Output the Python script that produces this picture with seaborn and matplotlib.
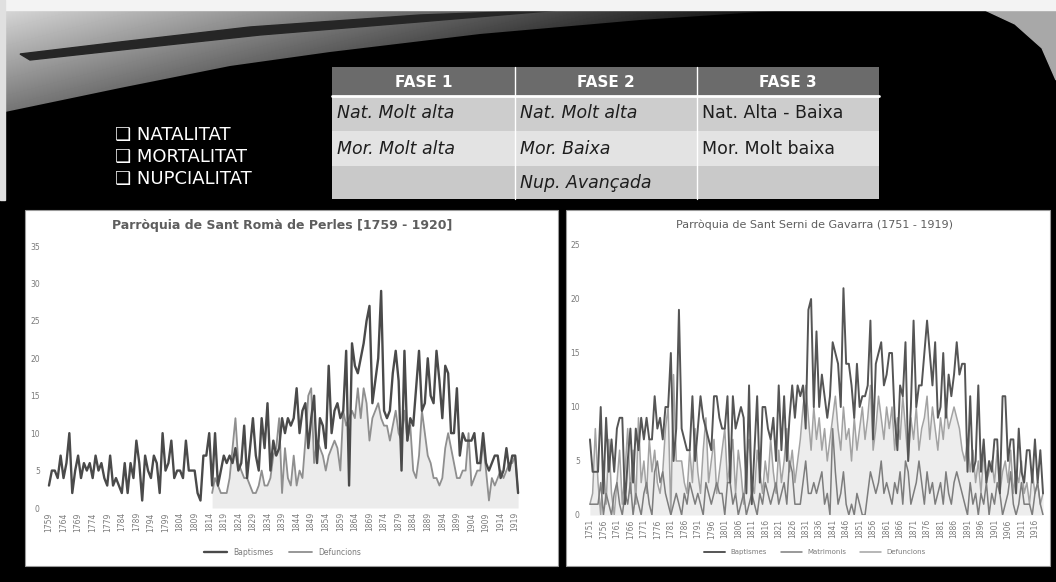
import numpy as np
import pandas as pd
import matplotlib.pyplot as plt
import seaborn as sns
from matplotlib.patches import Rectangle, Polygon

sns.set_style("white")
plt.rcParams['font.family'] = ['DejaVu Sans']

# ---- data: Sant Roma de Perles (1759 - 1920)
perles_years = list(range(1759, 1921))
perles_baptismes = [3, 5, 5, 4, 7, 4, 6, 10, 2, 5,
                    7, 4, 6, 5, 6, 4, 7, 5, 6, 4,
                    3, 7, 3, 4, 3, 2, 6, 2, 6, 4,
                    9, 6, 1, 7, 5, 4, 7, 6, 2, 10,
                    5, 6, 9, 4, 5, 5, 4, 9, 5, 5,
                    5, 2, 1, 7, 7, 10, 3, 10, 3, 5,
                    7, 6, 7, 6, 8, 5, 6, 11, 4, 8,
                    12, 7, 5, 12, 8, 14, 5, 9, 7, 8,
                    12, 10, 12, 11, 12, 16, 10, 13, 14, 8,
                    12, 15, 6, 12, 11, 8, 19, 10, 13, 14,
                    12, 13, 21, 3, 22, 19, 18, 20, 22, 25,
                    27, 14, 17, 20, 29, 13, 12, 13, 18, 21,
                    17, 5, 21, 9, 12, 11, 16, 21, 13, 14,
                    20, 15, 14, 21, 17, 12, 19, 18, 10, 10,
                    16, 7, 10, 9, 9, 9, 10, 6, 6, 10,
                    6, 5, 6, 7, 7, 4, 5, 8, 5, 7,
                    7, 2]
perles_defuncions = [np.nan] * 56 + [2, 4, 3, 2, 2, 2, 4, 8, 12, 6,
                                     5, 4, 4, 3, 2, 2, 3, 5, 3, 3,
                                     4, 7, 8, 12, 2, 8, 4, 3, 7, 3,
                                     5, 4, 9, 15, 16, 6, 9, 8, 7, 5,
                                     7, 8, 9, 8, 5, 13, 11, 12, 13, 12,
                                     16, 12, 16, 14, 9, 12, 13, 14, 12, 11,
                                     11, 9, 11, 13, 10, 9, 13, 9, 11, 5,
                                     4, 7, 13, 10, 7, 6, 4, 4, 3, 4,
                                     8, 10, 8, 6, 4, 4, 5, 5, 10, 3,
                                     4, 5, 5, 9, 5, 1, 4, 3, 4, 5,
                                     4, 5, 6, 6, 7, 2]

# ---- data: Sant Serni de Gavarra (1751 - 1919)
gavarra_years = list(range(1751, 1920))
gavarra_baptismes = [7, 4, 4, 4, 10, 2, 9, 4, 7, 4,
                     8, 9, 9, 1, 5, 8, 3, 8, 6, 9,
                     7, 9, 7, 7, 11, 8, 9, 7, 10, 10,
                     15, 5, 8, 19, 8, 7, 6, 6, 11, 5,
                     8, 11, 9, 8, 7, 6, 11, 11, 9, 8,
                     8, 11, 3, 11, 8, 9, 10, 9, 2, 12,
                     1, 6, 11, 3, 10, 10, 8, 7, 9, 5,
                     12, 6, 11, 5, 9, 12, 9, 12, 11, 12,
                     8, 19, 20, 10, 17, 10, 13, 11, 9, 11,
                     16, 15, 14, 10, 21,
                     14, 14, 12, 9, 14, 10, 11, 11, 12, 18,
                     7, 14, 15, 16, 12, 13, 15, 15, 9, 6,
                     12, 11, 16, 5, 10, 18, 10, 12, 12, 15,
                     18, 15, 12, 16, 9, 10, 15, 9, 13, 11,
                     13, 16, 13, 14, 14, 4, 11, 4, 5, 12,
                     4, 7, 3, 5, 4, 7, 7, 2, 11, 11,
                     5, 7, 7, 2, 8, 4, 3, 6, 6, 3,
                     7, 3, 6, 2]
gavarra_matrimonis = [1, 1, 1, 1, 3, 0, 2, 1, 0, 2,
                      3, 1, 0, 2, 1, 3, 0, 2, 1, 0,
                      2, 3, 1, 0, 4, 5, 3, 4, 2, 1,
                      0, 1, 2, 1, 0, 2, 1, 3, 2, 1,
                      2, 1, 0, 3, 2, 1, 2, 3, 2, 2,
                      0, 3, 3, 1, 2, 0, 1, 2, 0, 1,
                      2, 1, 0, 2, 1, 3, 2, 1, 2, 3,
                      1, 2, 3, 1, 5, 4, 1, 1, 1, 3,
                      5, 2, 2, 3, 2, 3, 4, 1, 2, 0,
                      8, 4, 1, 2, 4, 1, 0, 1, 0, 2,
                      1, 0, 0, 2, 4, 3, 2, 3, 5, 2,
                      3, 2, 1, 3, 2, 4, 1, 5, 4, 1,
                      2, 3, 5, 3, 1, 4, 2, 3, 1, 2,
                      3, 1, 4, 2, 1, 3, 4, 3, 2, 1,
                      0, 3, 1, 2, 0, 2, 1, 3, 0, 2,
                      1, 3, 2, 0, 1, 2, 4, 1, 0, 1,
                      3, 1, 1, 1, 0, 2, 3, 1, 0]
gavarra_defuncions = [1, 2, 8, 3, 0, 5, 1, 7, 2, 0,
                      3, 6, 1, 4, 8, 2, 6, 1, 9, 3,
                      5, 2, 7, 4, 6, 3, 2, 4, 8, 10,
                      0, 13, 5, 5, 5, 3, 2, 6, 3, 8,
                      4, 2, 6, 9, 3, 5, 7, 2, 4, 6,
                      8, 3, 5, 7, 2, 6, 4, 1, 5, 7,
                      3, 2, 6, 4, 2, 5, 3, 7, 4, 2,
                      6, 3, 5, 8, 4, 6, 3, 5, 7, 10,
                      12, 9, 6, 10, 7, 9, 6, 8, 5, 7,
                      9, 11, 8, 6, 10, 7, 8, 5, 9, 6,
                      8, 10, 7, 9, 12, 6, 8, 11, 9, 7,
                      10, 8, 10, 6, 9, 7, 11, 8, 5, 9,
                      7, 10, 6, 8, 9, 11, 7, 10, 8, 6,
                      9, 7, 10, 8, 9, 10, 9, 8, 6, 5,
                      7, 4, 6, 3, 5, 2, 6, 3, 4, 5,
                      3, 6, 2, 4, 5, 3, 6, 2, 4, 3,
                      5, 2, 3, 1, 4, 2, 3, 1, 2]

# ---- slide texts
fase_headers = ["FASE 1", "FASE 2", "FASE 3"]
fase_rows = [["Nat. Molt alta", "Nat. Molt alta", "Nat. Alta - Baixa"],
             ["Mor. Molt alta", "Mor. Baixa", "Mor. Molt baixa"],
             ["", "Nup. Avançada", ""]]
indicadors = ["NATALITAT", "MORTALITAT", "NUPCIALITAT"]

perles = pd.DataFrame({'any': perles_years, 'Baptismes': perles_baptismes,
                       'Defuncions': perles_defuncions})
gavarra = pd.DataFrame({'any': gavarra_years, 'Baptismes': gavarra_baptismes,
                        'Matrimonis': gavarra_matrimonis, 'Defuncions': gavarra_defuncions})

W, H = 1056, 582
fig = plt.figure(figsize=(W / 100, H / 100), dpi=100, facecolor='black')

# background of the slide, drawn in pixel coordinates
bg = fig.add_axes([0, 0, 1, 1], zorder=0)
bg.set_facecolor('black')
bg.set_xlim(0, W)
bg.set_ylim(H, 0)
bg.axis('off')
bg.add_patch(Rectangle((0, 0), W, H, color='black', zorder=0.5))

yy, xx = np.mgrid[0:120, 0:800]
sheen = np.clip(0.88 - 0.8 * xx / 800 - 0.45 * yy / 120, 0.05, 0.9)
sheen_poly = Polygon([(5, 10), (790, 10), (640, 20), (480, 34), (330, 52), (230, 66),
                      (120, 88), (5, 112)], closed=True, facecolor='none', edgecolor='none')
bg.add_patch(sheen_poly)
im = bg.imshow(sheen, cmap='gray', vmin=0, vmax=1, extent=(0, 800, 120, 0),
               aspect='auto', zorder=1)
im.set_clip_path(sheen_poly)
bg.set_xlim(0, W)
bg.set_ylim(H, 0)
bg.add_patch(Polygon([(20, 54), (120, 42), (250, 27), (420, 15), (560, 10), (430, 21),
                      (260, 35), (130, 49), (30, 60)], closed=True, color='#262626', zorder=2))
bg.add_patch(Polygon([(985, 10), (1056, 10), (1056, 80), (1042, 48), (1015, 24)],
                     closed=True, color='#a8a8a8', zorder=2))
bg.add_patch(Rectangle((0, 0), W, 10, color='#f3f3f3', zorder=2))
bg.add_patch(Rectangle((0, 0), 5, 200, color='#e0e0e0', zorder=2))

# bullets
for i, txt in enumerate(indicadors):
    bg.text(115, 135 + i * 22, "❑ " + txt, color='white', fontsize=13,
            va='center', ha='left', zorder=3)

# table of phases
col_x = [332, 515, 697, 879]
row_y = [67, 96, 131, 166, 199]
row_col = ['#6b6b6b', '#cdcdcd', '#e3e3e3', '#c9c9c9']
for r in range(4):
    bg.add_patch(Rectangle((col_x[0], row_y[r]), col_x[3] - col_x[0], row_y[r + 1] - row_y[r],
                           facecolor=row_col[r], edgecolor='none', zorder=2))
bg.plot([col_x[0], col_x[3]], [row_y[1], row_y[1]], color='white', lw=2, zorder=3)
for cx in col_x[1:3]:
    bg.plot([cx, cx], [row_y[0], row_y[4]], color='white', lw=1, zorder=3)
for c, head in enumerate(fase_headers):
    bg.text((col_x[c] + col_x[c + 1]) / 2, (row_y[0] + row_y[1]) / 2 + 1, head,
            color='white', fontsize=11, fontweight='bold', ha='center', va='center', zorder=3)
for r, row in enumerate(fase_rows):
    for c, txt in enumerate(row):
        bg.text(col_x[c] + 5, (row_y[r + 1] + row_y[r + 2]) / 2, txt, color='#1e1e1e',
                fontsize=12.5, ha='left', va='center', zorder=3,
                style='normal' if c == 2 else 'italic')

# white chart panels
bg.add_patch(Rectangle((25, 210), 533, 356, facecolor='white', edgecolor='#9a9a9a',
                       lw=0.8, zorder=2))
bg.add_patch(Rectangle((566, 210), 484, 356, facecolor='white', edgecolor='#9a9a9a',
                       lw=0.8, zorder=2))


def style_axis(ax, years, step, ymax, title, bold):
    ax.patch.set_alpha(0)
    ax.set_ylim(0, ymax)
    ax.set_yticks(range(0, ymax + 1, 5))
    ticks = years[::step]
    ax.set_xticks(ticks)
    ax.set_xticklabels([str(t) for t in ticks], rotation=90)
    ax.tick_params(axis='both', length=0, labelsize=5.5, colors='#7a7a7a', pad=3)
    ax.set_xlabel("")
    ax.set_ylabel("")
    for s in ax.spines.values():
        s.set_visible(False)
    ax.set_title(title, fontsize=9 if bold else 8, color='#5e5e5e',
                 fontweight='bold' if bold else 'normal', pad=12)


# left chart
ax1 = fig.add_axes([44 / W, (H - 508) / H, 477 / W, 262 / H], zorder=1)
ax1.fill_between(perles['any'], 0, perles['Defuncions'], color='#ececec', lw=0)
sns.lineplot(data=perles, x='any', y='Defuncions', ax=ax1, color='#8f8f8f', lw=1.3,
             label='Defuncions')
sns.lineplot(data=perles, x='any', y='Baptismes', ax=ax1, color='#4a4a4a', lw=1.7,
             label='Baptismes')
ax1.set_xlim(1757.3, 1921)
style_axis(ax1, perles_years, 5, 35, "Parròquia de Sant Romà de Perles [1759 - 1920]", True)
h, l = ax1.get_legend_handles_labels()
ax1.legend(h[::-1], l[::-1], loc='center', bbox_to_anchor=(0.5, -0.168), ncol=2,
           frameon=False, fontsize=5.5, handlelength=3, labelcolor='#7a7a7a')

# right chart
ax2 = fig.add_axes([584 / W, (H - 515) / H, 462 / W, 270 / H], zorder=1)
ax2.fill_between(gavarra['any'], 0, gavarra['Defuncions'], color='#ededed', lw=0)
sns.lineplot(data=gavarra, x='any', y='Defuncions', ax=ax2, color='#a3a3a3', lw=1.1,
             label='Defuncions')
sns.lineplot(data=gavarra, x='any', y='Matrimonis', ax=ax2, color='#7d7d7d', lw=1.1,
             label='Matrimonis')
sns.lineplot(data=gavarra, x='any', y='Baptismes', ax=ax2, color='#555555', lw=1.4,
             label='Baptismes')
ax2.set_xlim(1748.8, 1920.1)
style_axis(ax2, gavarra_years, 5, 25, "Parròquia de Sant Serni de Gavarra (1751 - 1919)", False)
h, l = ax2.get_legend_handles_labels()
ax2.legend(h[::-1], l[::-1], loc='center', bbox_to_anchor=(0.5, -0.137), ncol=3,
           frameon=False, fontsize=5, handlelength=3, labelcolor='#7a7a7a')

fig.savefig('out.png', dpi=100, facecolor='black')
